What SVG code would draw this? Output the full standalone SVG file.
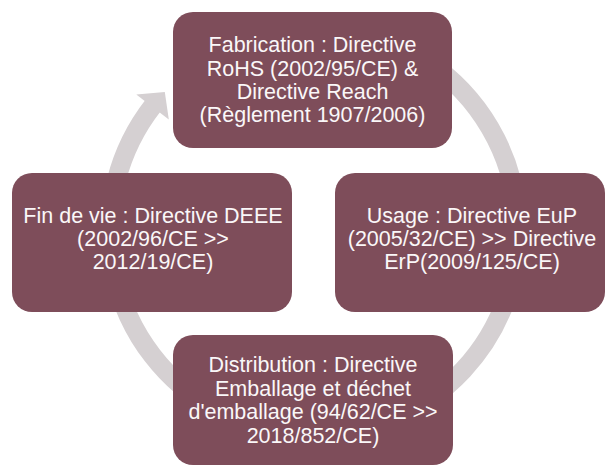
<svg xmlns="http://www.w3.org/2000/svg" width="608" height="467" viewBox="0 0 608 467">
<style>
.box{fill:#7E4D5A;}
.t{font-family:"Liberation Sans",Arial,sans-serif;font-size:21.5px;fill:#FAF7F8;text-anchor:middle;}
.ring{fill:none;stroke:#D5D0D2;stroke-width:19;}
.head{fill:#D5D0D2;}
</style>
<rect width="608" height="467" fill="#FFFFFF"/>
<g id="connectors">
<path class="ring" d="M349.4,30.1 A204,204 0 1 1 153.2,105.4"/>
<polygon class="head" points="136.3,94.6 164.8,91.9 168.8,119.6"/>
</g>
<g id="node-fabrication">
<rect class="box" x="173" y="12" width="279" height="136" rx="20"/>
<text class="t" x="312.5" y="52">Fabrication : Directive</text>
<text class="t" x="312.5" y="75.5">RoHS (2002/95/CE) &amp;</text>
<text class="t" x="312.5" y="99">Directive Reach</text>
<text class="t" x="312.5" y="122">(Règlement 1907/2006)</text>
</g>
<g id="node-usage">
<rect class="box" x="335" y="173" width="270" height="139" rx="20"/>
<text class="t" x="472" y="222.5">Usage : Directive EuP</text>
<text class="t" x="472" y="245.5">(2005/32/CE) &gt;&gt; Directive</text>
<text class="t" x="472" y="268.5">ErP(2009/125/CE)</text>
</g>
<g id="node-fin-de-vie">
<rect class="box" x="12" y="173" width="280" height="139" rx="20"/>
<text class="t" x="153" y="222.5">Fin de vie : Directive DEEE</text>
<text class="t" x="153" y="245.5">(2002/96/CE &gt;&gt;</text>
<text class="t" x="153" y="268.5">2012/19/CE)</text>
</g>
<g id="node-distribution">
<rect class="box" x="173" y="335" width="280" height="130" rx="20"/>
<text class="t" x="313" y="372">Distribution : Directive</text>
<text class="t" x="313" y="395.5">Emballage et déchet</text>
<text class="t" x="313" y="419">d'emballage (94/62/CE &gt;&gt;</text>
<text class="t" x="313" y="442.5">2018/852/CE)</text>
</g>
</svg>
